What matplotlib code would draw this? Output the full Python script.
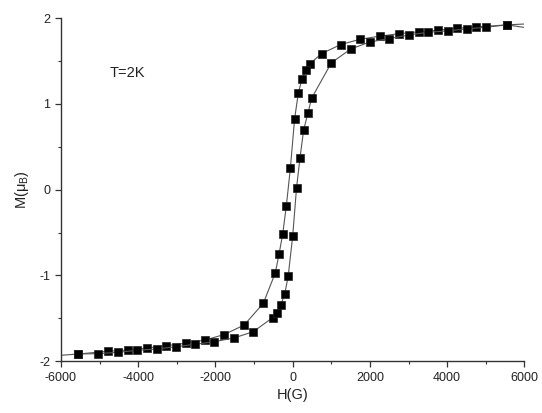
"""
Magnetization loop M(H) at T = 2 K
"""
import matplotlib
matplotlib.use("Agg")
from matplotlib import pyplot as plt
from matplotlib.ticker import MultipleLocator

plt.rcParams['font.family'] = ['Liberation Sans', 'DejaVu Sans']
plt.rcParams['axes.unicode_minus'] = False

# field sweep down from the high-field end
h_down = [6000, 5550, 4760, 4260, 3760, 3260, 2760, 2250, 1750, 1240, 750,
          450, 345, 240, 145, 50, -60, -165, -260, -355, -450, -760, -1255,
          -1770, -2270, -2770, -3275, -3775, -4275, -4775, -5550, -6000]
m_down = [1.93, 1.92, 1.896, 1.881, 1.858, 1.838, 1.818, 1.788, 1.753, 1.690,
          1.585, 1.469, 1.395, 1.287, 1.124, 0.824, 0.249, -0.193, -0.522,
          -0.755, -0.970, -1.324, -1.577, -1.688, -1.752, -1.790, -1.818,
          -1.845, -1.868, -1.883, -1.915, -1.93]

# field sweep back up
h_up = [-5550, -5035, -4525, -4025, -3520, -3025, -2525, -2030, -1520, -1020,
        -520, -405, -310, -205, -115, 0, 100, 190, 285, 395, 490, 1000, 1500,
        2000, 2500, 3010, 3510, 4015, 4515, 5015, 5550, 6000]
m_up = [-1.915, -1.911, -1.895, -1.872, -1.857, -1.830, -1.802, -1.772,
        -1.728, -1.655, -1.492, -1.434, -1.344, -1.216, -1.002, -0.543, 0.022,
        0.373, 0.699, 0.890, 1.065, 1.477, 1.638, 1.721, 1.760, 1.803, 1.834,
        1.850, 1.873, 1.893, 1.92, 1.89]

fig = plt.figure(figsize=(5.42, 4.13), dpi=100)
ax = fig.add_axes([0.1125, 0.1252, 0.855, 0.8312])

for h, m in [(h_down, m_down), (h_up, m_up)]:
    # end points at the field limits carry no marker
    ax.plot(h, m, color='#555555', lw=0.8, marker='s', ms=5.2,
            mfc='black', mec='#222222', mew=0.5,
            markevery=[i for i in range(len(h)) if abs(h[i]) < 6000])

ax.set_xlim(-6000, 6000)
ax.set_ylim(-2, 2)
ax.xaxis.set_major_locator(MultipleLocator(2000))
ax.xaxis.set_minor_locator(MultipleLocator(1000))
ax.yaxis.set_major_locator(MultipleLocator(1))
ax.yaxis.set_minor_locator(MultipleLocator(0.5))

for side in ['top', 'right']:
    ax.spines[side].set_visible(False)
for side in ['left', 'bottom']:
    ax.spines[side].set_linewidth(1.0)
    ax.spines[side].set_color('#333333')

ax.tick_params(which='major', direction='out', length=4, width=0.9,
               labelsize=9, colors='#333333', labelcolor='#222222')
ax.tick_params(which='minor', direction='out', length=2, width=0.8,
               colors='#333333')

ax.set_xlabel('H(G)', fontsize=10.5, color='#222222', labelpad=3)
ax.set_ylabel(r'M($\mathregular{\mu_B}$)', fontsize=10.5, color='#222222',
              labelpad=6)

ax.text(-4750, 1.36, 'T=2K', fontsize=10.5, va='center', color='#222222')

plt.savefig('out.png', dpi=100)
